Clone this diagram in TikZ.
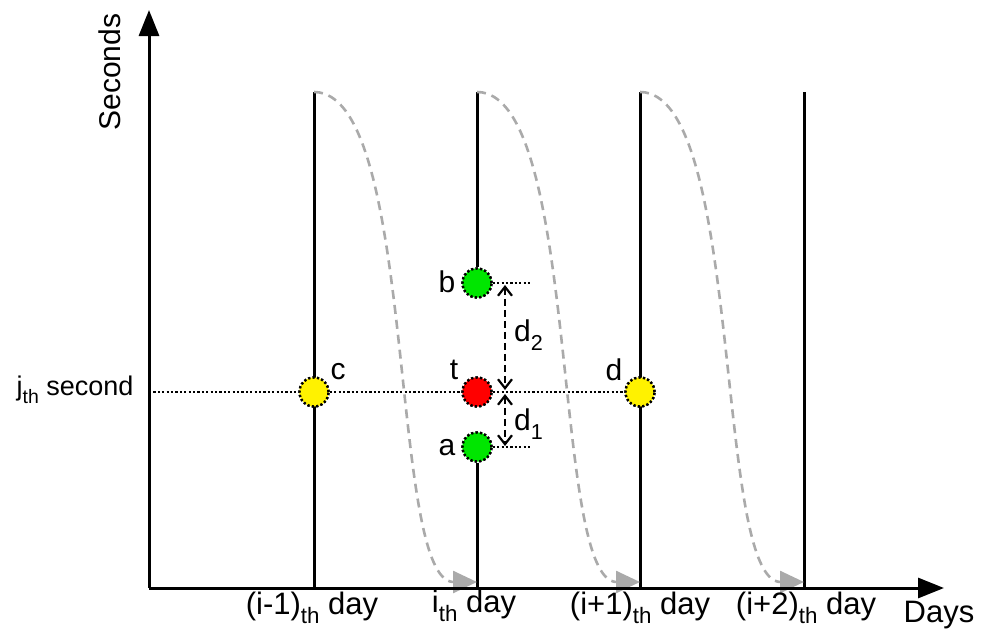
\documentclass[tikz,border=0pt]{standalone}
\usepackage{fontspec}
\usepackage{graphicx}
\setmainfont{Liberation Sans}
\usetikzlibrary{arrows.meta}
\newcommand{\lsub}[1]{\raisebox{-0.3em}{\scalebox{0.72}{#1}}}
\begin{document}
\begin{tikzpicture}[x=1pt,y=-1pt,
  axis/.style={line width=3pt,-{Triangle[length=26pt,width=20pt]}},
  dayline/.style={line width=3pt},
  shiftarr/.style={line width=2.6pt,draw={rgb,255:red,170;green,170;blue,170},dash pattern=on 9pt off 6pt,-{Triangle[length=24pt,width=22pt,fill={rgb,255:red,170;green,170;blue,170}]}},
  dotline/.style={line width=2.4pt,dash pattern=on 2.2pt off 2.2pt},
  dist/.style={line width=2.2pt,dash pattern=on 7pt off 4pt,{Straight Barb[length=9pt,width=14pt]}-{Straight Barb[length=9pt,width=14pt]}},
  pt/.style={circle,minimum size=29pt,inner sep=0pt,draw,line width=2.4pt,dash pattern=on 2.2pt off 2.2pt},
  lbl/.style={font=\fontsize{30}{36}\selectfont,inner sep=0pt},
  daylbl/.style={font=\fontsize{31}{36}\selectfont,inner sep=0pt},
  seclbl/.style={font=\fontsize{27}{32}\selectfont,inner sep=0pt}
]
\useasboundingbox (0,0) rectangle (989,632);
% axes
\coordinate (O) at (149,588);
\coordinate (Ytip) at (149,10);
\coordinate (Xtip) at (944,588);
% day lines
\foreach \i/\x in {1/314,2/477,3/640,4/804}{
  \coordinate (top\i) at (\x,92);
  \coordinate (bot\i) at (\x,588);
}
\node[pt,fill=yellow] (c) at (314,392) {};
\node[pt,fill=red] (t) at (477,392) {};
\node[pt,fill=yellow] (d) at (640,392) {};
\node[pt,fill={rgb,255:red,0;green,230;blue,0}] (b) at (477,283) {};
\node[pt,fill={rgb,255:red,0;green,230;blue,0}] (a) at (477,447) {};
\draw[dayline] (top1) -- (bot1);
\draw[dayline] (top2) -- (b.north);
\draw[dayline] (a.south) -- (bot2);
\draw[dayline] (top3) -- (bot3);
\draw[dayline] (top4) -- (bot4);
% shift curves
\coordinate (e1) at (477,582);
\coordinate (e2) at (640,582);
\coordinate (e3) at (804,582);
\draw[shiftarr] (top1) .. controls (418,92) and (388,582) .. (e1);
\draw[shiftarr] (top2) .. controls (581,92) and (551,582) .. (e2);
\draw[shiftarr] (top3) .. controls (744,92) and (714,582) .. (e3);
% axes on top
\draw[axis] (O) -- (Ytip);
\draw[axis] (O) -- (Xtip);
% dotted lines
\coordinate (bR) at (532,283);
\coordinate (aR) at (532,447);
\coordinate (yl) at (149,392);
\draw[dotline] (yl) -- (c) -- (t) -- (d);
\draw[dotline] (b) -- (bR);
\draw[dotline] (a) -- (aR);
% redraw points on top
\node[pt,fill=yellow] at (c) {};
\node[pt,fill=red] at (t) {};
\node[pt,fill=yellow] at (d) {};
\node[pt,fill={rgb,255:red,0;green,230;blue,0}] at (b) {};
\node[pt,fill={rgb,255:red,0;green,230;blue,0}] at (a) {};
% distance arrows
\coordinate (d2top) at (505,285);
\coordinate (d2bot) at (505,390);
\coordinate (d1top) at (505,394);
\coordinate (d1bot) at (505,446);
\draw[dist] (d2top) -- (d2bot);
\draw[dist] (d1top) -- (d1bot);
% labels
\node[lbl] (lc) at (338,372) {c};
\node[lbl] (lt) at (454,370) {t};
\node[lbl] (ld) at (614,370) {d};
\node[lbl] (lb) at (447,282) {b};
\node[lbl] (la) at (447,448) {a};
\node[lbl,anchor=west] (ld2) at (514,335) {d\lsub{2}};
\node[lbl,anchor=west] (ld1) at (514,424) {d\lsub{1}};
\node[lbl,rotate=90] (ys) at (110,72) {Seconds};
\node[seclbl] (js) at (75,390) {j\lsub{th} second};
\node[daylbl] (x1) at (312,608) {(i-1)\lsub{th} day};
\node[daylbl] (x2) at (474,606) {i\lsub{th} day};
\node[daylbl] (x3) at (640,608) {(i+1)\lsub{th} day};
\node[daylbl] (x4) at (806,608) {(i+2)\lsub{th} day};
\node[daylbl] (xs) at (939,615) {Days};
\end{tikzpicture}
\end{document}
